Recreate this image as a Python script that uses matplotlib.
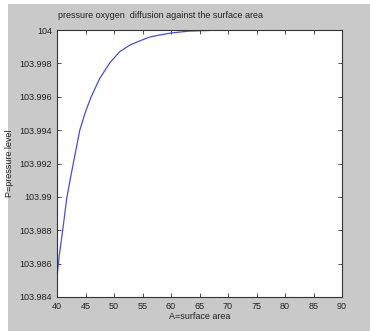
import matplotlib
matplotlib.use("Agg")
import matplotlib.pyplot as plt
from matplotlib.patches import Rectangle
from matplotlib.ticker import FuncFormatter

# values
area = [40, 40.4, 41, 41.7, 42.4, 43.2, 44, 45, 46, 47.5, 49.3, 51, 52.8,
        54.6, 56.3, 58, 60, 63, 68, 75, 90]
pressure = [103.9852, 103.9865, 103.9880, 103.9899, 103.9912, 103.9926,
            103.9940, 103.9951, 103.9960, 103.9971, 103.99805, 103.9987,
            103.9991, 103.99936, 103.99958, 103.9997, 103.99982, 103.99993,
            103.99999, 104.0, 104.0]

x_ticks = [40, 45, 50, 55, 60, 65, 70, 75, 80, 85, 90]
y_ticks = [103.984, 103.986, 103.988, 103.99, 103.992, 103.994, 103.996,
           103.998, 104]

plt.rcParams["font.family"] = ["Liberation Sans", "DejaVu Sans"]

fig = plt.figure(figsize=(3.70, 3.31), dpi=100)
fig.patch.set_facecolor("white")
# grey window area (screenshot has a thin white edge top/left)
fig.patches.append(Rectangle((8 / 370, 0), 1, 1 - 4 / 331,
                             transform=fig.transFigure, facecolor="#c9c9c9",
                             edgecolor="none", zorder=-10))

ax = fig.add_axes([57 / 370, 1 - 297 / 331, 285 / 370, 267 / 331])
ax.set_facecolor("white")
ax.plot(area, pressure, color="#4a4ae6", lw=0.9)

ax.set_xlim(40, 90)
ax.set_ylim(103.984, 104)
ax.set_xticks(x_ticks)
ax.set_yticks(y_ticks)
ax.yaxis.set_major_formatter(FuncFormatter(lambda v, p: "%g" % round(v, 3)))
ax.tick_params(direction="in", length=3, width=0.6, labelsize=6.5,
               top=True, right=True, colors="#333333", labelcolor="#222222")
for s in ax.spines.values():
    s.set_linewidth(0.8)
    s.set_color("#333333")

fig.text(160 / 370, 1 - 16 / 331,
         "pressure oxygen  diffusion against the surface area",
         fontsize=6.5, color="#222222", ha="center", va="center")
ax.set_xlabel("A=surface area", fontsize=6.5, color="#222222", labelpad=1)
ax.set_ylabel("P=pressure level", fontsize=6.5, color="#222222")
ax.yaxis.set_label_coords(-(57 - 14) / 285, 0.5)

fig.savefig("out.png", dpi=100, facecolor=fig.get_facecolor())
